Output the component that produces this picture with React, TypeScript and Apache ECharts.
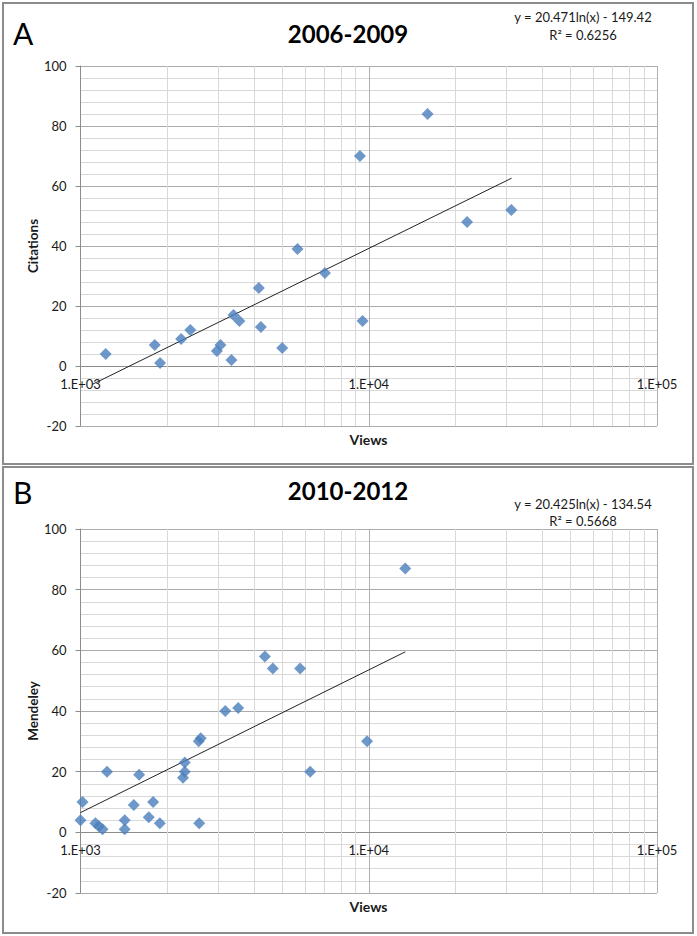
import React, { useEffect, useRef } from "react";
import * as echarts from "echarts";

// ---- Data ----
const viewsA = [1223, 1810, 1888, 2234, 2404, 2972, 3059, 3340, 3394, 3557, 4156, 4224, 5008, 5659, 7047, 9320, 9517, 16000, 21930, 31240];
const citationsA = [4, 7, 1, 9, 12, 5, 7, 2, 17, 15, 26, 13, 6, 39, 31, 70, 15, 84, 48, 52];
const trendA = [[1100, -6.1], [31300, 62.6]];

const viewsB = [1000, 1016, 1127, 1158, 1193, 1236, 1423, 1423, 1531, 1597, 1725, 1786, 1884, 2268, 2300, 2300, 2572, 2613, 2581, 3178, 3524, 4362, 4646, 5781, 6265, 9866, 13386];
const mendeleyB = [4, 10, 3, 2, 1, 20, 4, 1, 9, 19, 5, 10, 3, 18, 20, 23, 30, 31, 3, 40, 41, 58, 54, 54, 20, 30, 87];
const trendB = [[1000, 6.5], [13386, 59.5]];

const xTickLabels = ["1.E+03", "1.E+04", "1.E+05"];
const minorViews = [2000, 3000, 4000, 5000, 6000, 7000, 8000, 9000, 20000, 30000, 40000, 50000, 60000, 70000, 80000, 90000];
const panelTitles = ["2006-2009", "2010-2012"];
const panelLetters = ["A", "B"];
const equations = [["y = 20.471ln(x) - 149.42", "R\u00B2 = 0.6256"], ["y = 20.425ln(x) - 134.54", "R\u00B2 = 0.5668"]];
const yNames = ["Citations", "Mendeley"];
const xName = "Views";
const yMin = -20;
const yMax = 100;

const FONT = "Lato, 'Open Sans', sans-serif";
const TXT = "#1a1a1a";

export default function App() {
  const ref = useRef<HTMLDivElement>(null);
  useEffect(() => {
    if (!ref.current) return;
    const chart = echarts.init(ref.current, undefined, { renderer: "svg" });
    const grids = [
      { left: 80.5, top: 66, width: 576.5, height: 360 },
      { left: 80.5, top: 529, width: 576.5, height: 364 },
    ];
    const scatterData = [
      viewsA.map((v, i) => [v, citationsA[i]]),
      viewsB.map((v, i) => [v, mendeleyB[i]]),
    ];
    const trends = [trendA, trendB];
    const series: any[] = [];
    [0, 1].forEach((i) => {
      series.push({
        type: "line",
        xAxisIndex: i,
        yAxisIndex: i,
        data: trends[i],
        symbol: "none",
        silent: true,
        z: 2,
        lineStyle: { color: "#222", width: 1 },
      });
      series.push({
        type: "scatter",
        xAxisIndex: i,
        yAxisIndex: i,
        data: scatterData[i],
        symbol: "diamond",
        symbolSize: 12,
        z: 3,
        itemStyle: { color: "#4a7ebb" },
        markLine: {
          silent: true,
          z: 1,
          symbol: ["none", "none"],
          label: { show: false },
          lineStyle: { color: "#d9d9d9", width: 1, type: "solid" },
          emphasis: { disabled: true },
          data: minorViews.map((v) => ({ xAxis: v })),
        },
      });
    });

    const graphic: any[] = [];
    const panels = [
      { y: 3, h: 461, letterY: 33, titleY: 33, eqY: [17, 35], nameY: 246, viewsY: 439 },
      { y: 467, h: 466, letterY: 492, titleY: 490, eqY: [504, 521], nameY: 711, viewsY: 906 },
    ];
    panels.forEach((p, i) => {
      graphic.push({
        type: "rect",
        shape: { x: 3, y: p.y, width: 690, height: p.h },
        style: { fill: "none", stroke: "#8c8c8c", lineWidth: 2 },
        silent: true,
      });
      graphic.push({
        type: "text",
        x: 13,
        y: p.letterY,
        style: { text: panelLetters[i], font: `30px ${FONT}`, fill: "#000", textAlign: "left", textVerticalAlign: "middle" },
      });
      graphic.push({
        type: "text",
        x: 348,
        y: p.titleY,
        style: { text: panelTitles[i], font: `bold 24px ${FONT}`, fill: "#000", textAlign: "center", textVerticalAlign: "middle" },
      });
      equations[i].forEach((eq, k) => {
        graphic.push({
          type: "text",
          x: 583,
          y: p.eqY[k],
          style: { text: eq, font: `13px ${FONT}`, fill: TXT, textAlign: "center", textVerticalAlign: "middle" },
        });
      });
      graphic.push({
        type: "text",
        x: 33,
        y: p.nameY,
        rotation: Math.PI / 2,
        style: { text: yNames[i], font: `bold 13.5px ${FONT}`, fill: TXT, textAlign: "center", textVerticalAlign: "middle" },
      });
      graphic.push({
        type: "text",
        x: 368.5,
        y: p.viewsY,
        style: { text: xName, font: `bold 14px ${FONT}`, fill: TXT, textAlign: "center", textVerticalAlign: "middle" },
      });
    });

    const option: any = {
      animation: false,
      textStyle: { fontFamily: FONT },
      grid: grids,
      xAxis: [0, 1].map((i) => ({
        type: "log",
        logBase: 10,
        min: 1000,
        max: 100000,
        gridIndex: i,
        position: "bottom",
        // place the axis where y = 0 (Excel-style crossing): offset is the pixel span of [yMin, 0]
        offset: -(grids[i].height * (0 - yMin)) / (yMax - yMin),
        axisLine: { show: true, onZero: false, lineStyle: { color: "#8c8c8c", width: 1 } },
        axisTick: { show: false },
        axisLabel: {
          fontSize: 13,
          color: TXT,
          margin: 11,
          formatter: (v: number) => xTickLabels[Math.round(Math.log10(v)) - 3],
        },
        splitLine: { show: true, lineStyle: { color: ["#b0b0b0", "#858585", "#b0b0b0"], width: 1 } },
      })),
      yAxis: [0, 1].map((i) => ({
        type: "value",
        min: yMin,
        max: yMax,
        interval: 20,
        gridIndex: i,
        axisLine: { show: true, onZero: false, lineStyle: { color: "#8c8c8c", width: 1 } },
        axisTick: { show: true, length: 5, lineStyle: { color: "#8c8c8c" } },
        axisLabel: { fontSize: 13, color: TXT, margin: 14 },
        splitLine: { show: true, lineStyle: { color: "#ababab", width: 1 } },
        minorTick: { show: false, splitNumber: 5 },
        minorSplitLine: { show: true, lineStyle: { color: "#d9d9d9", width: 1 } },
      })),
      series,
      graphic,
    };
    chart.setOption(option);
    return () => chart.dispose();
  }, []);
  return (
    <div
      ref={ref}
      style={{ position: "absolute", left: 0, top: 0, width: 697, height: 936, background: "#fff" }}
    />
  );
}
